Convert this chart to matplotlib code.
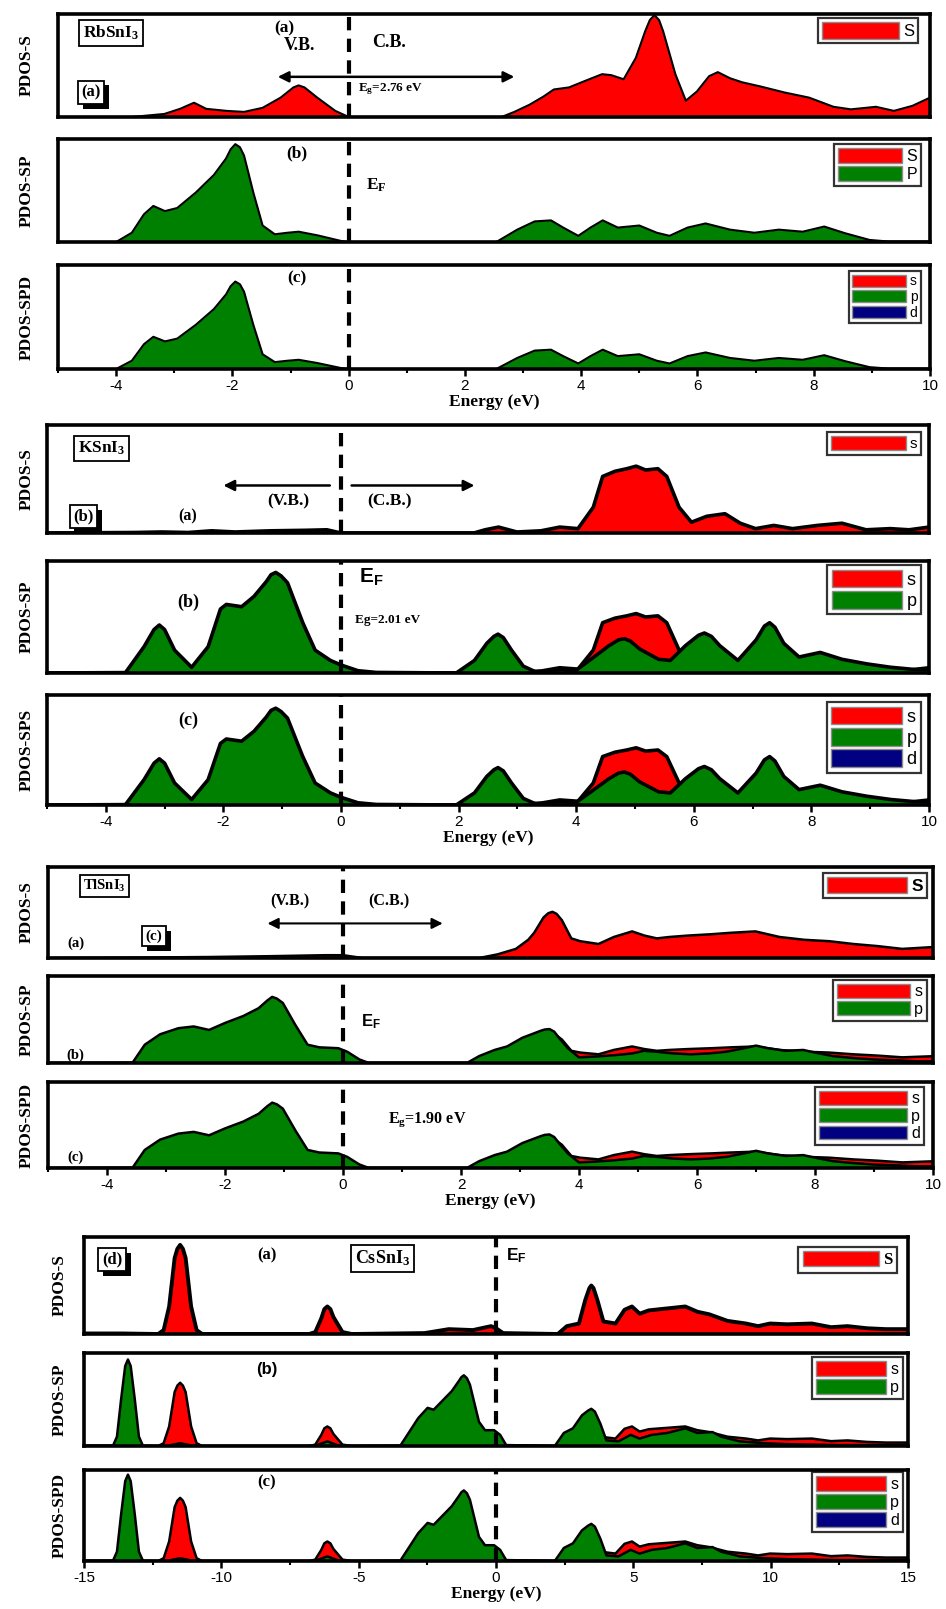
import matplotlib
matplotlib.use("Agg")
import matplotlib.pyplot as plt
from matplotlib.patches import Patch
import matplotlib.patheffects as pe
from matplotlib.ticker import MultipleLocator

# ---------------- data (partial DOS, arbitrary units) ----------------
# RbSnI3
rb_s_E = [-5, -3.73, -3.17, -2.9, -2.66, -2.45, -2.1, -1.8, -1.48, -1.17,
          -0.95, -0.86, -0.76, -0.54, -0.23, 0, 2.63, 2.85, 3.11, 3.35,
          3.53, 3.79, 4.05, 4.36, 4.52, 4.73, 4.94, 5.1, 5.18, 5.26,
          5.34, 5.41, 5.62, 5.8, 5.99, 6.2, 6.35, 6.56, 6.77, 7.08,
          7.5, 7.92, 8.34, 8.64, 9.07, 9.38, 9.7, 10.0]
rb_s = [0, 0, 0.03, 0.08, 0.14, 0.08, 0.06, 0.05, 0.09, 0.19,
        0.29, 0.31, 0.29, 0.19, 0.06, 0, 0, 0.05, 0.12, 0.2,
        0.27, 0.29, 0.35, 0.42, 0.41, 0.37, 0.58, 0.84, 0.95, 1.0,
        0.95, 0.84, 0.42, 0.16, 0.25, 0.40, 0.44, 0.38, 0.34, 0.30,
        0.24, 0.19, 0.10, 0.075, 0.10, 0.06, 0.11, 0.19]
rb_p_E = [-5, -4.0, -3.73, -3.52, -3.36, -3.16, -2.95, -2.63, -2.32, -2.11,
          -2.03, -1.95, -1.87, -1.8, -1.64, -1.48, -1.27, -1.05, -0.86, -0.54,
          -0.13, 0, 2.54, 2.9, 3.2, 3.48, 3.69, 3.95, 4.16, 4.37,
          4.63, 5.0, 5.3, 5.52, 5.83, 6.14, 6.56, 6.98, 7.4, 7.81,
          8.18, 8.54, 8.96, 9.28, 10.0]
rb_p = [0, 0, 0.09, 0.27, 0.35, 0.30, 0.33, 0.48, 0.65, 0.81,
        0.9, 0.95, 0.92, 0.84, 0.48, 0.16, 0.075, 0.09, 0.10, 0.065,
        0.01, 0, 0, 0.12, 0.20, 0.21, 0.14, 0.06, 0.14, 0.21,
        0.14, 0.16, 0.09, 0.06, 0.14, 0.18, 0.12, 0.09, 0.12, 0.10,
        0.15, 0.085, 0.02, 0.005, 0.005]

# KSnI3
k_s_E = [-5, -3.5, -3.05, -2.6, -2.2, -1.8, -1.2, -0.6, -0.24, 0,
         2.26, 2.45, 2.68, 2.99, 3.4, 3.72, 4.03, 4.29, 4.45, 4.66,
         4.86, 5.02, 5.18, 5.39, 5.54, 5.75, 5.96, 6.22, 6.53, 6.79,
         7.05, 7.36, 7.68, 8.1, 8.52, 8.93, 9.34, 9.66, 10.0]
k_s = [0, 0.004, 0.008, 0.004, 0.017, 0.008, 0.017, 0.021, 0.025, 0,
       0, 0.025, 0.046, 0.008, 0.017, 0.046, 0.034, 0.20, 0.44, 0.48,
       0.50, 0.52, 0.49, 0.50, 0.44, 0.20, 0.084, 0.13, 0.15, 0.076,
       0.034, 0.059, 0.034, 0.059, 0.076, 0.025, 0.034, 0.025, 0.046]
k_p_E = [-5, -3.67, -3.35, -3.18, -3.09, -3.0, -2.83, -2.54, -2.26, -2.05,
         -1.95, -1.69, -1.48, -1.27, -1.19, -1.11, -1.02, -0.91, -0.65, -0.44,
         -0.18, 0, 0.29, 0.6, 1.96, 2.27, 2.48, 2.6, 2.67, 2.76,
         2.9, 3.1, 3.31, 3.52, 3.73, 3.99, 4.25, 4.56, 4.72, 4.82,
         4.92, 5.08, 5.4, 5.6, 5.86, 6.08, 6.18, 6.3, 6.44, 6.75,
         7.06, 7.2, 7.29, 7.38, 7.53, 7.79, 8.15, 8.52, 8.94, 9.35,
         9.77, 10.0]
k_p = [0, 0, 0.23, 0.38, 0.42, 0.38, 0.2, 0.05, 0.23, 0.56,
       0.6, 0.58, 0.67, 0.8, 0.86, 0.88, 0.85, 0.79, 0.44, 0.2,
       0.11, 0.07, 0.02, 0.005, 0, 0.11, 0.26, 0.32, 0.34, 0.31,
       0.2, 0.06, 0.01, 0.02, 0.03, 0.02, 0.12, 0.24, 0.29, 0.3,
       0.28, 0.21, 0.12, 0.11, 0.24, 0.33, 0.35, 0.32, 0.24, 0.11,
       0.29, 0.41, 0.44, 0.4, 0.26, 0.14, 0.18, 0.12, 0.08, 0.05,
       0.03, 0.03]

# TlSnI3
t_s_E = [-5, -3.5, -2.27, -1.23, -0.29, 0, 0.33, 2.31, 2.62, 2.93,
         3.14, 3.24, 3.4, 3.48, 3.55, 3.62, 3.71, 3.87, 4.02, 4.33,
         4.59, 4.9, 5.11, 5.32, 5.53, 5.84, 6.25, 6.57, 6.99, 7.4,
         7.82, 8.24, 8.65, 9.06, 9.48, 10.0]
t_s = [0, 0.003, 0.007, 0.013, 0.02, 0.02, 0, 0, 0.026, 0.065,
       0.13, 0.18, 0.29, 0.32, 0.33, 0.315, 0.27, 0.14, 0.12, 0.10,
       0.15, 0.19, 0.16, 0.14, 0.15, 0.16, 0.17, 0.18, 0.19, 0.15,
       0.13, 0.12, 0.10, 0.085, 0.065, 0.078]
t_p_E = [-5, -3.57, -3.36, -3.1, -2.79, -2.53, -2.27, -2.0, -1.69, -1.43,
         -1.28, -1.2, -1.12, -1.02, -0.81, -0.6, -0.4, -0.08, 0.07, 0.28,
         0.44, 2.1, 2.31, 2.57, 2.78, 3.04, 3.35, 3.42, 3.5, 3.58,
         3.66, 3.81, 4.0, 4.3, 4.6, 4.9, 5.1, 5.3, 5.6, 5.9,
         6.2, 6.5, 6.8, 7.0, 7.2, 7.5, 7.8, 8.0, 8.3, 8.6,
         9.0, 9.4, 9.7, 10.0]
t_p = [0, 0, 0.21, 0.33, 0.40, 0.42, 0.38, 0.46, 0.54, 0.63,
       0.72, 0.76, 0.74, 0.69, 0.44, 0.21, 0.18, 0.17, 0.13, 0.04,
       0, 0, 0.08, 0.15, 0.19, 0.29, 0.37, 0.385, 0.39, 0.36,
       0.29, 0.17, 0.065, 0.075, 0.09, 0.11, 0.14, 0.13, 0.11, 0.1,
       0.11, 0.13, 0.17, 0.2, 0.17, 0.14, 0.15, 0.12, 0.08, 0.06,
       0.04, 0.03, 0.02, 0.02]

# CsSnI3
cs_s_E = [-15, -13.6, -12.3, -12.1, -11.9, -11.7, -11.6, -11.5, -11.4, -11.3,
          -11.1, -10.9, -10.7, -6.8, -6.58, -6.36, -6.25, -6.14, -6.03, -5.92,
          -5.59, -5.25, -2.6, -1.72, -0.84, -0.18, 0, 0.26, 2.25, 2.58,
          3.02, 3.25, 3.4, 3.47, 3.55, 3.69, 3.91, 4.35, 4.68, 4.95,
          5.23, 5.56, 6.0, 6.45, 6.89, 7.33, 7.77, 8.43, 9.1, 9.54,
          9.98, 10.6, 11.5, 12.2, 12.8, 13.5, 14.2, 15.0]
cs_s = [0.004, 0.004, 0, 0.03, 0.21, 0.58, 0.65, 0.68, 0.65, 0.58,
        0.21, 0.03, 0, 0, 0.015, 0.12, 0.19, 0.21, 0.19, 0.13,
        0.015, 0, 0.007, 0.037, 0.03, 0.06, 0.044, 0.007, 0, 0.06,
        0.08, 0.26, 0.35, 0.37, 0.35, 0.26, 0.096, 0.08, 0.185, 0.21,
        0.155, 0.18, 0.19, 0.2, 0.21, 0.17, 0.15, 0.1, 0.08, 0.06,
        0.08, 0.074, 0.08, 0.052, 0.06, 0.044, 0.037, 0.037]
cs_p_E = [-15, -13.95, -13.8, -13.65, -13.5, -13.4, -13.3, -13.15, -13.0, -12.85,
          -12.0, -11.5, -11.0, -6.6, -6.14, -5.7, -3.49, -3.16, -2.83, -2.49,
          -2.27, -1.94, -1.61, -1.35, -1.26, -1.17, -1.06, -0.95, -0.62, -0.4,
          -0.07, 0.15, 0.37, 2.14, 2.47, 2.8, 3.13, 3.35, 3.47, 3.6,
          3.8, 4.02, 4.46, 4.9, 5.23, 5.67, 6.23, 6.89, 7.33, 7.88,
          8.2, 8.87, 9.76, 10.6, 11.5, 12.4, 13.3, 15.0]
cs_p = [0, 0, 0.1, 0.5, 0.86, 0.93, 0.86, 0.5, 0.1, 0,
        0, 0.03, 0, 0, 0.05, 0, 0, 0.15, 0.3, 0.41,
        0.39, 0.49, 0.59, 0.7, 0.74, 0.76, 0.73, 0.66, 0.26, 0.17,
        0.17, 0.12, 0.01, 0, 0.14, 0.19, 0.33, 0.38, 0.4, 0.37,
        0.24, 0.06, 0.05, 0.12, 0.08, 0.12, 0.14, 0.19, 0.14, 0.15,
        0.1, 0.05, 0.03, 0.02, 0.015, 0.01, 0.01, 0.01]

orbital_labels_upper = ["S", "P"]
orbital_labels = ["s", "p", "d"]
energy_ticks_small = [-4, -2, 0, 2, 4, 6, 8, 10]
energy_ticks_wide = [-15, -10, -5, 0, 5, 10, 15]

# ---------------- style ----------------
RED, GREEN, BLUE = "#ff0000", "#008000", "#000080"
SERIF = "Liberation Serif"
SANS = "Liberation Sans"
plt.rcParams.update({
    "font.family": [SANS, "DejaVu Sans"],
    "axes.unicode_minus": False,
    "mathtext.fontset": "custom",
    "mathtext.rm": "Liberation Serif:bold",
    "mathtext.it": "Liberation Serif:bold",
    "mathtext.bf": "Liberation Serif:bold",
    "mathtext.sf": "Liberation Sans:bold",
})

W, H = 946, 1609
fig = plt.figure(figsize=(W / 100, H / 100), dpi=100)
fig.patch.set_facecolor("white")


def add_panel(left, right, top, bottom, xlim, ytop):
    ax = fig.add_axes([left / W, 1 - bottom / H, (right - left) / W, (bottom - top) / H])
    ax.set_xlim(*xlim)
    ax.set_ylim(0, ytop)
    ax.set_yticks([])
    ax.tick_params(axis="x", which="both", bottom=False, labelbottom=False)
    for sp in ax.spines.values():
        sp.set_linewidth(2.6)
        sp.set_zorder(10)
    ax._layer = 2
    return ax


def area(ax, E, y, color, lw):
    # each new orbital is stacked over the previous one (fill and outline)
    z = ax._layer
    ax.fill_between(E, 0, y, color=color, lw=0, zorder=z)
    ax.plot(E, y, color="k", lw=lw, solid_joinstyle="round", zorder=z + 0.5)
    ax._layer = z + 1


def fermi(ax, lw=3.0):
    ax.axvline(0, color="k", lw=lw, ls=(0, (3.2, 2.0)), zorder=8)


def bottom_axis(ax, ticks, minor):
    ax.set_xticks(ticks)
    ax.xaxis.set_minor_locator(MultipleLocator(minor))
    ax.tick_params(axis="x", which="major", bottom=True, labelbottom=True,
                   direction="out", length=5, width=1.8, labelsize=11, pad=2)
    ax.tick_params(axis="x", which="minor", bottom=True, direction="out",
                   length=3, width=1.5)
    ax.set_xlabel("Energy (eV)", family=SERIF, weight="bold", fontsize=12.5, labelpad=1)


def ylab(x_px, top, bottom, text):
    fig.text(x_px / W, 1 - (top + bottom) / 2 / H, text, rotation=90, ha="center",
             va="center", family=SERIF, weight="bold", fontsize=12.5)


def legend(ax, labels, colors, right_px, top_px, fs, hl, hh, family=SANS, weight="normal"):
    handles = [Patch(facecolor=c, edgecolor="#8c8c8c", lw=1.0) for c in colors]
    leg = ax.legend(handles, labels, loc="upper right",
                    bbox_to_anchor=(right_px / W, 1 - top_px / H),
                    bbox_transform=fig.transFigure, frameon=True, fancybox=False,
                    edgecolor="k", handlelength=hl, handleheight=hh,
                    handletextpad=0.25, borderpad=0.25, labelspacing=0.12,
                    borderaxespad=0,
                    prop={"family": family, "size": fs, "weight": weight})
    leg.get_frame().set_linewidth(1.6)
    leg.set_zorder(20)


def txt(ax, x, y, s, fs=11, family=SERIF, ha="center", box=False, shadow=False):
    kw = {}
    if box or shadow:
        kw["bbox"] = dict(boxstyle="square,pad=0.22", fc="white", ec="k", lw=1.3)
    t = ax.text(x, y, s, transform=ax.get_xaxis_transform(), ha=ha, va="center",
                family=family, weight="bold", fontsize=fs, zorder=15, **kw)
    if shadow:
        t.get_bbox_patch().set_path_effects(
            [pe.SimplePatchShadow(offset=(3.5, -3.5), shadow_rgbFace="k", alpha=1.0),
             pe.Normal()])
    return t


def arrow(ax, x0, x1, y, style="-|>", lw=1.8):
    ax.annotate("", xy=(x1, y), xytext=(x0, y), xycoords=ax.get_xaxis_transform(),
                textcoords=ax.get_xaxis_transform(),
                arrowprops=dict(arrowstyle=style, color="k", lw=lw,
                                mutation_scale=16, shrinkA=0, shrinkB=0),
                zorder=14)


XS = (-5, 10)

# ---------------- RbSnI3 ----------------
L, R = 58, 930
a = add_panel(L, R, 14, 117, XS, 1.01)
area(a, rb_s_E, rb_s, RED, 1.5)
fermi(a)
txt(a, -4.09, 0.82, r"RbSnI$_3$", fs=12.5, box=True)
txt(a, -1.1, 0.86, "(a)", fs=12.5)
txt(a, -0.84, 0.69, "V.B.", fs=13)
txt(a, 0.69, 0.72, "C.B.", fs=13)
arrow(a, -1.22, 2.85, 0.39, style="<|-|>")
txt(a, 0.16, 0.27, r"E$_g$=2.76 eV", fs=9.5, ha="left")
txt(a, -4.43, 0.24, "(a)", fs=12, shadow=True)
legend(a, orbital_labels_upper[:1], [RED], 918, 18, 12, 4.6, 1.15)
ylab(27, 14, 117, "PDOS-S")

b = add_panel(L, R, 139, 242, XS, 1.0)
area(b, rb_p_E, rb_p, GREEN, 1.5)
fermi(b)
txt(b, -0.89, 0.86, "(b)", fs=12.5)
txt(b, 0.3, 0.55, r"E$_F$", fs=12.5, ha="left")
legend(b, orbital_labels_upper, [RED, GREEN], 921, 144, 11.5, 4.0, 1.05)
ylab(27, 139, 242, "PDOS-SP")

c = add_panel(L, R, 265, 369, XS, 1.13)
area(c, rb_p_E, rb_p, GREEN, 1.5)
fermi(c)
txt(c, -0.89, 0.875, "(c)", fs=12.5)
legend(c, orbital_labels, [RED, GREEN, BLUE], 921, 271, 10, 3.9, 0.95)
bottom_axis(c, energy_ticks_small, 1)
ylab(27, 265, 369, "PDOS-SPD")

# ---------------- KSnI3 ----------------
L, R = 47, 929
a = add_panel(L, R, 425, 533, XS, 0.84)
area(a, k_s_E, k_s, RED, 2.6)
fermi(a)
txt(a, -4.07, 0.78, r"KSnI$_3$", fs=12.5, box=True)
txt(a, -4.38, 0.15, "(b)", fs=12, shadow=True)
txt(a, -2.6, 0.15, "(a)", fs=11.5)
arrow(a, -0.19, -2.0, 0.44)
arrow(a, 0.18, 2.27, 0.44)
txt(a, -0.9, 0.29, "(V.B.)", fs=12.5)
txt(a, 0.83, 0.29, "(C.B.)", fs=12.5)
legend(a, orbital_labels[:1], [RED], 921, 432, 11, 4.9, 1.1)
ylab(27, 425, 533, "PDOS-S")

b = add_panel(L, R, 561, 673, XS, 0.98)
area(b, k_s_E, k_s, RED, 2.6)
area(b, k_p_E, k_p, GREEN, 2.6)
fermi(b)
txt(b, -2.6, 0.63, "(b)", fs=13)
txt(b, 0.3, 0.86, r"E$_\mathsf{F}$", fs=15, family=SANS, ha="left")
txt(b, 0.24, 0.47, "Eg=2.01 eV", fs=9.5, ha="left")
legend(b, orbital_labels[:2], [RED, GREEN], 921, 565, 13, 3.9, 1.15)
ylab(27, 561, 673, "PDOS-SP")

c = add_panel(L, R, 695, 805, XS, 1.0)
area(c, k_s_E, k_s, RED, 2.6)
area(c, k_p_E, k_p, GREEN, 2.6)
fermi(c)
txt(c, -2.6, 0.77, "(c)", fs=13)
legend(c, orbital_labels, [RED, GREEN, BLUE], 921, 702, 13, 3.9, 1.15)
bottom_axis(c, energy_ticks_small, 1)
ylab(27, 695, 805, "PDOS-SPS")

# ---------------- TlSnI3 ----------------
L, R = 48, 933
a = add_panel(L, R, 867, 958, XS, 0.65)
area(a, t_s_E, t_s, RED, 1.8)
fermi(a)
txt(a, -4.04, 0.79, r"TlSnI$_3$", fs=10.5, box=True)
txt(a, -0.9, 0.62, "(V.B.)", fs=11.5)
txt(a, 0.78, 0.62, "(C.B.)", fs=11.5)
arrow(a, -1.28, 1.69, 0.38, style="<|-|>", lw=1.5)
txt(a, -3.2, 0.24, "(c)", fs=11, shadow=True)
txt(a, -4.53, 0.16, "(a)", fs=10.5)
legend(a, ["S"], [RED], 927, 873, 12.5, 4.6, 1.0, weight="bold")
ylab(27, 867, 958, "PDOS-S")

b = add_panel(L, R, 976, 1063, XS, 1.0)
area(b, t_s_E, t_s, RED, 1.8)
area(b, t_p_E, t_p, GREEN, 1.8)
fermi(b)
txt(b, -4.53, 0.09, "(b)", fs=10.5)
txt(b, 0.3, 0.47, r"E$_\mathsf{F}$", fs=12, family=SANS, ha="left")
legend(b, orbital_labels[:2], [RED, GREEN], 927, 980, 11.5, 4.6, 0.95)
ylab(27, 976, 1063, "PDOS-SP")

c = add_panel(L, R, 1082, 1168, XS, 1.0)
area(c, t_s_E, t_s, RED, 1.8)
area(c, t_p_E, t_p, GREEN, 1.8)
fermi(c)
txt(c, -4.53, 0.12, "(c)", fs=10.5)
txt(c, 0.76, 0.56, r"E$_g$=1.90 eV", fs=11.5, ha="left")
legend(c, orbital_labels, [RED, GREEN, BLUE], 924, 1087, 11.5, 5.5, 0.95)
bottom_axis(c, energy_ticks_small, 1)
ylab(27, 1082, 1168, "PDOS-SPD")

# ---------------- CsSnI3 ----------------
L, R = 84, 908
XW = (-15, 15)
a = add_panel(L, R, 1237, 1334, XW, 0.74)
area(a, cs_s_E, cs_s, RED, 2.8)
fermi(a)
txt(a, -13.98, 0.77, "(d)", fs=12, shadow=True)
txt(a, -8.34, 0.81, "(a)", fs=12)
txt(a, -4.12, 0.78, r"CsSnI$_3$", fs=13, box=True)
txt(a, 0.36, 0.81, r"E$_\mathsf{F}$", fs=12.5, family=SANS, ha="left")
legend(a, ["S"], [RED], 897, 1247, 12, 4.6, 1.0, family=SERIF, weight="bold")
ylab(60, 1237, 1334, "PDOS-S")

b = add_panel(L, R, 1353, 1446, XW, 1.0)
area(b, cs_s_E, cs_s, RED, 1.8)
area(b, cs_p_E, cs_p, GREEN, 1.8)
fermi(b)
txt(b, -8.34, 0.82, "(b)", fs=12, family=SANS)
legend(b, orbital_labels[:2], [RED, GREEN], 903, 1357, 11.5, 4.4, 1.1)
ylab(60, 1353, 1446, "PDOS-SP")

c = add_panel(L, R, 1470, 1561, XW, 0.98)
area(c, cs_s_E, cs_s, RED, 1.8)
area(c, cs_p_E, cs_p, GREEN, 1.8)
fermi(c)
txt(c, -8.34, 0.86, "(c)", fs=12)
legend(c, orbital_labels, [RED, GREEN, BLUE], 903, 1472, 11.5, 4.4, 1.1)
bottom_axis(c, energy_ticks_wide, 2.5)
ylab(60, 1470, 1561, "PDOS-SPD")

fig.savefig("out.png", dpi=100, facecolor="white")
